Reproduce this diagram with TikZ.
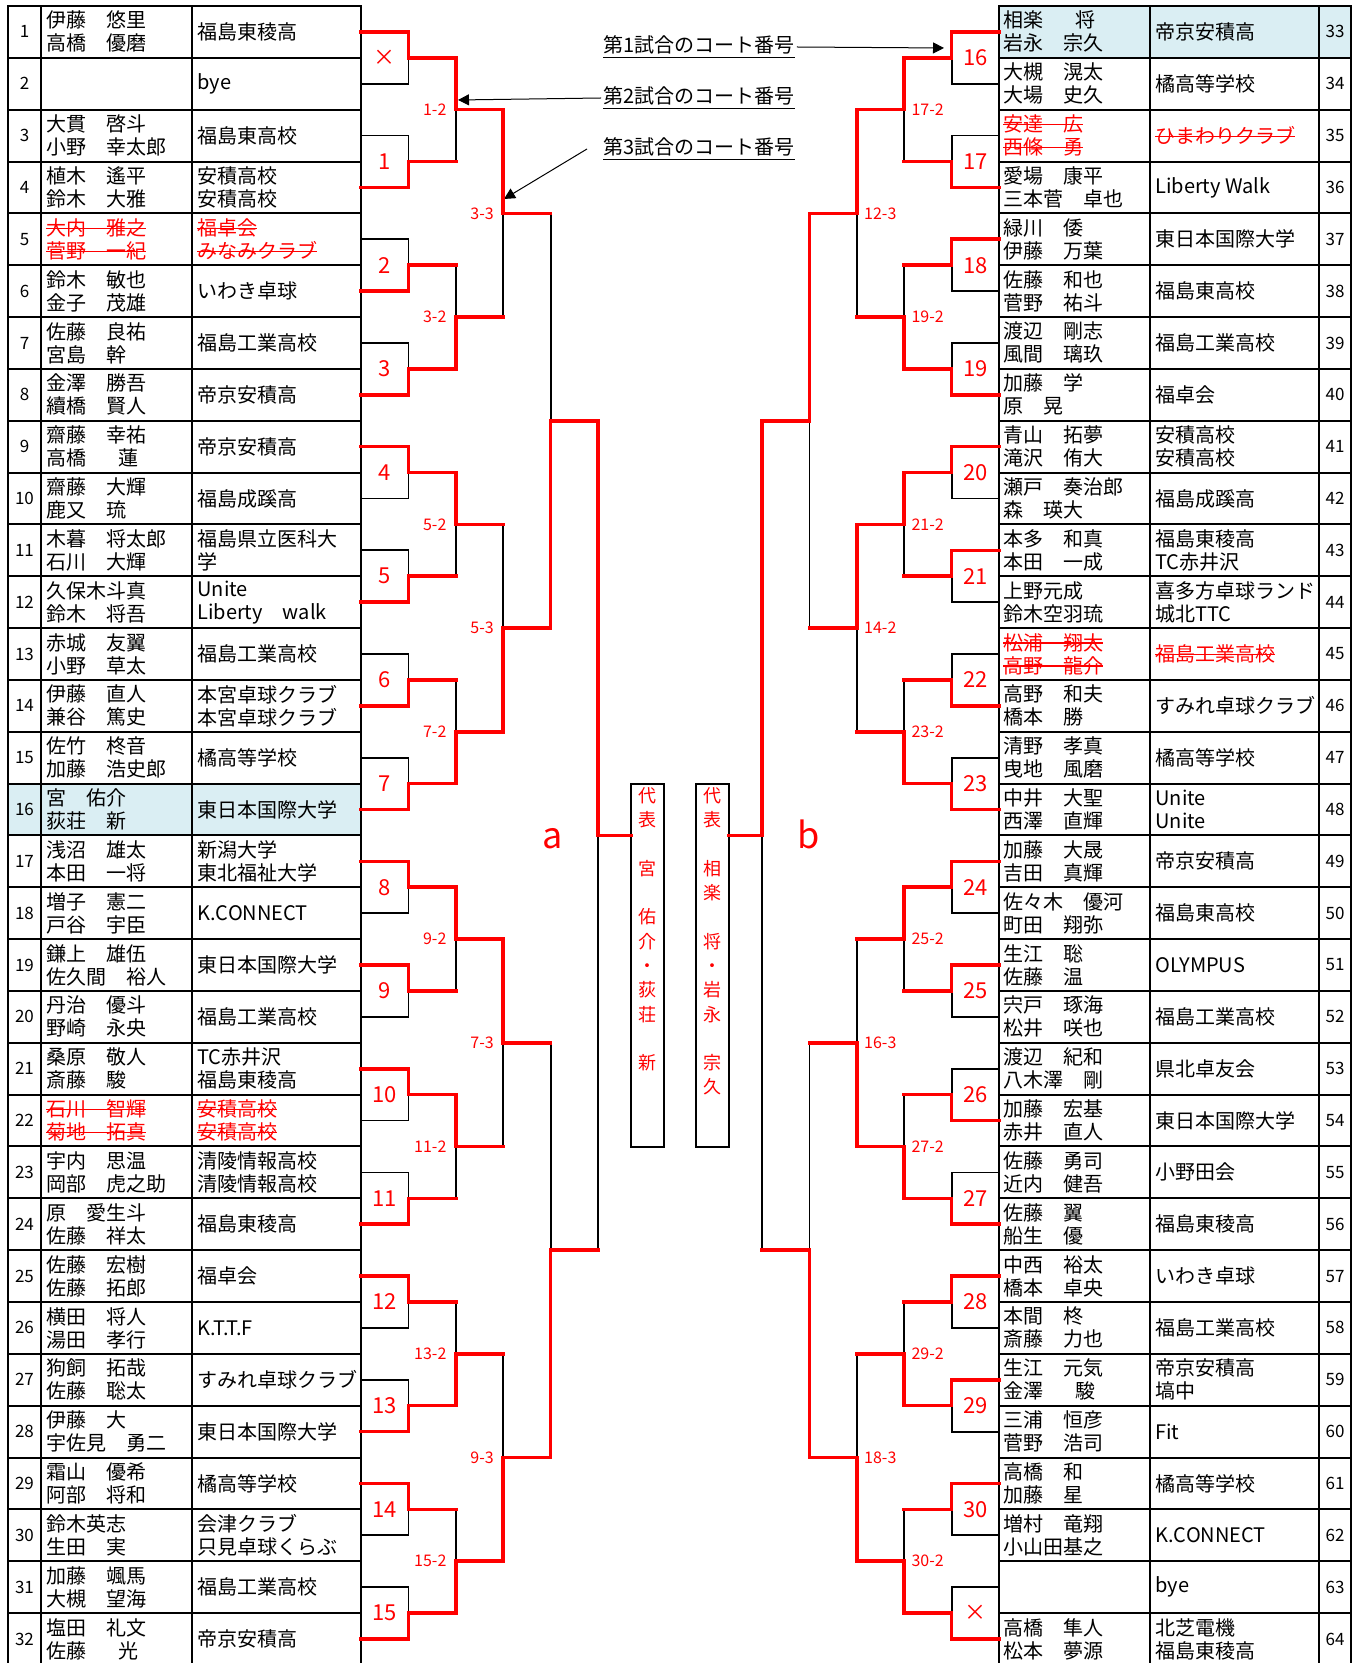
\documentclass[tikz,border=0pt]{standalone}
\usepackage{fontspec}
\setmainfont{Noto Sans CJK JP}
\usetikzlibrary{arrows.meta,positioning}
\pgfdeclarelayer{front}
\pgfsetlayers{main,front}
\definecolor{hilite}{RGB}{218,238,243}
\tikzset{
  >={Triangle[length=5.5pt,width=5.5pt]},
  tline/.style={line width=1pt},
  bline/.style={line width=0.9pt},
  rline/.style={line width=1.8pt,red,line cap=rect},
  arrowline/.style={->,line width=0.5pt},
  namecell/.style={anchor=west,align=left,inner sep=0pt,font=\fontsize{10}{11.5}\selectfont},
  numcell/.style={inner sep=0pt,font=\fontsize{8.5}{10}\selectfont},
  courtnum/.style={inner sep=0pt,red,font=\fontsize{11}{12}\selectfont},
  roundlab/.style={inner sep=0pt,red,font=\fontsize{8}{9}\selectfont},
  note/.style={anchor=west,inner sep=1pt,font=\fontsize{10}{11}\selectfont},
  repbox/.style={draw,line width=1pt,minimum width=16.5pt,minimum height=181.5pt,inner sep=0pt},
  repname/.style={anchor=north,inner sep=0pt,align=center,red,font=\fontsize{9}{12.15}\selectfont},
  sidelab/.style={anchor=base,inner sep=0pt,red,font=\fontsize{18}{18}\selectfont},
}
\newlength\strklen
\newcommand\strk[1]{\settowidth{\strklen}{#1}\textcolor{red}{\rlap{\rule[0.33em]{\strklen}{0.6pt}}#1}}
% one bout of the draw: side (l/r), round, index, winner (0 upper / 1 lower), label
\newcommand\bout[5]{%
  \ifx l#1\def\xo{361}\def\dx{47.4}\def\xe{631}\def\lanc{east}\def\lsh{-4.5pt}%
  \else\def\xo{999}\def\dx{-47.4}\def\xe{729}\def\lanc{west}\def\lsh{3.5pt}\fi
  \pgfmathsetmacro\s{2^(#2-2)}%
  \pgfmathsetmacro\yt{6+(4*\s*#3+\s)*51.84}%
  \pgfmathsetmacro\yb{6+(4*\s*#3+3*\s)*51.84}%
  \pgfmathsetmacro\ym{6+(4*\s*#3+2*\s)*51.84}%
  \pgfmathsetmacro\xa{\xo+(#2-1)*\dx}%
  \pgfmathsetmacro\xb{\xo+#2*\dx}%
  \ifnum#2=5 \let\xc\xe \else\pgfmathsetmacro\xc{\xo+(#2+1)*\dx}\fi
  \ifnum#4=0 \let\yw\yt \else \let\yw\yb \fi
  \ifnum#2=1
    \draw[bline] (\xa,\yt) -- (\xb,\yt) -- (\xb,\yb) -- (\xa,\yb);
    \node[courtnum] (ct#1#3) at ({(\xa+\xb)/2},\ym) {#5};
    \begin{pgfonlayer}{front}
      \draw[rline] (\xa,\yw) -- (\xb,\yw) -- (\xb,\ym) -- (\xc,\ym);
    \end{pgfonlayer}
  \else
    \draw[bline] (\xb,\yt) -- (\xb,\yb);
    \node[roundlab,anchor=\lanc,xshift=\lsh] (rd#1#2#3) at (\xb,\ym) {#5};
    \begin{pgfonlayer}{front}
      \draw[rline] (\xb,\yw) -- (\xb,\ym) -- (\xc,\ym);
    \end{pgfonlayer}
  \fi
}
\begin{document}
\begin{tikzpicture}[x=0.5pt,y=-0.5pt]
\useasboundingbox (0,0) rectangle (1364,1663);

% tables
\fill[hilite] (8,{6+15*51.84}) rectangle (361,{6+16*51.84});
\fill[hilite] (999,6) rectangle (1351,{6+51.84});
\foreach \xl/\xr in {8/361,999/1351} {
  \draw[tline] (\xl,6) rectangle (\xr,1665);
  \foreach \i in {1,...,31} \draw[tline] (\xl,{6+\i*51.84}) -- (\xr,{6+\i*51.84});
}
\foreach \xx in {41,192,1150,1319} \draw[tline] (\xx,6) -- (\xx,1665);

\foreach \i/\nm/\tm in {
  1/{伊藤　悠里\\高橋　優磨}/{福島東稜高},
  2/{}/{bye},
  3/{大貫　啓斗\\小野　幸太郎}/{福島東高校},
  4/{植木　遙平\\鈴木　大雅}/{安積高校\\安積高校},
  5/{\strk{大内　雅之}\\\strk{菅野　一紀}}/{\strk{福卓会}\\\strk{みなみクラブ}},
  6/{鈴木　敏也\\金子　茂雄}/{いわき卓球},
  7/{佐藤　良祐\\宮島　幹}/{福島工業高校},
  8/{金澤　勝吾\\續橋　賢人}/{帝京安積高},
  9/{齋藤　幸祐\\高橋\hspace{1.6em}蓮}/{帝京安積高},
  10/{齋藤　大輝\\鹿又　琉}/{福島成蹊高},
  11/{木暮　将太郎\\石川　大輝}/{福島県立医科大\\学},
  12/{久保木斗真\\鈴木　将吾}/{Unite\\Liberty　walk},
  13/{赤城　友翼\\小野　草太}/{福島工業高校},
  14/{伊藤　直人\\兼谷　篤史}/{本宮卓球クラブ\\本宮卓球クラブ},
  15/{佐竹　柊音\\加藤　浩史郎}/{橘高等学校},
  16/{宮　佑介\\荻荘　新}/{東日本国際大学},
  17/{浅沼　雄太\\本田　一将}/{新潟大学\\東北福祉大学},
  18/{増子　憲二\\戸谷　宇臣}/{K.CONNECT},
  19/{鎌上　雄伍\\佐久間　裕人}/{東日本国際大学},
  20/{丹治　優斗\\野崎　永央}/{福島工業高校},
  21/{桑原　敬人\\斎藤　駿}/{TC赤井沢\\福島東稜高},
  22/{\strk{石川　智輝}\\\strk{菊地　拓真}}/{\strk{安積高校}\\\strk{安積高校}},
  23/{宇内　思温\\岡部　虎之助}/{清陵情報高校\\清陵情報高校},
  24/{原　愛生斗\\佐藤　祥太}/{福島東稜高},
  25/{佐藤　宏樹\\佐藤　拓郎}/{福卓会},
  26/{横田　将人\\湯田　孝行}/{K.T.T.F},
  27/{狗飼　拓哉\\佐藤　聡太}/{すみれ卓球クラブ},
  28/{伊藤　大\\宇佐見　勇二}/{東日本国際大学},
  29/{霜山　優希\\阿部　将和}/{橘高等学校},
  30/{鈴木英志\\生田　実}/{会津クラブ\\只見卓球くらぶ},
  31/{加藤　颯馬\\大槻　望海}/{福島工業高校},
  32/{塩田　礼文\\佐藤\hspace{1.6em}光}/{帝京安積高}} {
  \pgfmathsetmacro\yy{6+(\i-0.5)*51.84}
  \node[numcell] (nl\i) at (24.5,\yy) {\i};
  \node[namecell] (pl\i) at (46,\yy) {\nm};
  \node[namecell] (tl\i) at (197,\yy) {\tm};
}

\foreach \i/\nm/\tm in {
  33/{相楽\hspace{1.6em}将\\岩永　宗久}/{帝京安積高},
  34/{大槻　滉太\\大場　史久}/{橘高等学校},
  35/{\strk{安達　広}\\\strk{西條　勇}}/{\strk{ひまわりクラブ}},
  36/{愛場　康平\\三本菅　卓也}/{Liberty Walk},
  37/{緑川　倭\\伊藤　万葉}/{東日本国際大学},
  38/{佐藤　和也\\菅野　祐斗}/{福島東高校},
  39/{渡辺　剛志\\風間　璃玖}/{福島工業高校},
  40/{加藤　学\\原　晃}/{福卓会},
  41/{青山　拓夢\\滝沢　侑大}/{安積高校\\安積高校},
  42/{瀬戸　奏治郎\\森　瑛大}/{福島成蹊高},
  43/{本多　和真\\本田　一成}/{福島東稜高\\TC赤井沢},
  44/{上野元成\\鈴木空羽琉}/{喜多方卓球ランド\\城北TTC},
  45/{\strk{松浦　翔太}\\\strk{高野　龍介}}/{\strk{福島工業高校}},
  46/{高野　和夫\\橋本　勝}/{すみれ卓球クラブ},
  47/{清野　孝真\\曳地　風磨}/{橘高等学校},
  48/{中井　大聖\\西澤　直輝}/{Unite\\Unite},
  49/{加藤　大晟\\吉田　真輝}/{帝京安積高},
  50/{佐々木　優河\\町田　翔弥}/{福島東高校},
  51/{生江　聡\\佐藤　温}/{OLYMPUS},
  52/{宍戸　琢海\\松井　咲也}/{福島工業高校},
  53/{渡辺　紀和\\八木澤　剛}/{県北卓友会},
  54/{加藤　宏基\\赤井　直人}/{東日本国際大学},
  55/{佐藤　勇司\\近内　健吾}/{小野田会},
  56/{佐藤　翼\\船生　優}/{福島東稜高},
  57/{中西　裕太\\橋本　卓央}/{いわき卓球},
  58/{本間　柊\\斎藤　力也}/{福島工業高校},
  59/{生江　元気\\金澤\hspace{1.6em}駿}/{帝京安積高\\塙中},
  60/{三浦　恒彦\\菅野　浩司}/{Fit},
  61/{高橋　和\\加藤　星}/{橘高等学校},
  62/{増村　竜翔\\小山田基之}/{K.CONNECT},
  63/{}/{bye},
  64/{高橋　隼人\\松本　夢源}/{北芝電機\\福島東稜高}} {
  \pgfmathsetmacro\yy{6+(\i-32.5)*51.84}
  \node[numcell] (nr\i) at (1335,\yy) {\i};
  \node[namecell] (pr\i) at (1003,\yy) {\nm};
  \node[namecell] (tr\i) at (1155,\yy) {\tm};
}

% left bracket
\foreach \m/\w/\lab in {0/0/×,1/1/1,2/1/2,3/1/3,4/0/4,5/1/5,6/1/6,7/1/7,8/0/8,9/0/9,10/0/10,11/1/11,12/0/12,13/1/13,14/0/14,15/1/15}
  {\bout{l}{1}{\m}{\w}{\lab}}
\foreach \m/\w/\lab in {0/0/1-2,1/1/3-2,2/0/5-2,3/1/7-2,4/0/9-2,5/0/11-2,6/1/13-2,7/1/15-2}
  {\bout{l}{2}{\m}{\w}{\lab}}
\foreach \m/\w/\lab in {0/0/3-3,1/1/5-3,2/0/7-3,3/1/9-3}
  {\bout{l}{3}{\m}{\w}{\lab}}
\foreach \m/\w in {0/1,1/1} {\bout{l}{4}{\m}{\w}{}}
\bout{l}{5}{0}{0}{}

% right bracket
\foreach \m/\w/\lab in {0/0/16,1/1/17,2/0/18,3/1/19,4/0/20,5/0/21,6/1/22,7/1/23,8/0/24,9/0/25,10/1/26,11/1/27,12/0/28,13/0/29,14/0/30,15/1/×}
  {\bout{r}{1}{\m}{\w}{\lab}}
\foreach \m/\w/\lab in {0/0/17-2,1/1/19-2,2/0/21-2,3/1/23-2,4/0/25-2,5/1/27-2,6/1/29-2,7/1/30-2}
  {\bout{r}{2}{\m}{\w}{\lab}}
\foreach \m/\w/\lab in {0/0/12-3,1/0/14-2,2/1/16-3,3/1/18-3}
  {\bout{r}{3}{\m}{\w}{\lab}}
\foreach \m/\w in {0/0,1/1} {\bout{r}{4}{\m}{\w}{}}
\bout{r}{5}{0}{0}{}

% representatives
\node[repbox] (repA) at (647.5,965.5) {};
\node[repbox] (repB) at (712.5,965.5) {};
\node[repname] (repAname) at (647.5,787) {代\\表\\　\\宮\\　\\佑\\介\\・\\荻\\荘\\　\\新};
\node[repname] (repBname) at (712.5,787) {代\\表\\　\\相\\楽\\　\\将\\・\\岩\\永\\　\\宗\\久};
\node[sidelab] (blockA) at (553,848) {a};
\node[sidelab] (blockB) at (809,848) {b};

% notes
\node[note] (note1) at (601,47) {\underline{第1試合のコート番号}};
\node[note] (note2) at (601,98) {\underline{第2試合のコート番号}};
\node[note] (note3) at (601,149) {\underline{第3試合のコート番号}};
\coordinate (tip1) at (944,48);
\coordinate (tip2) at (458,100);
\coordinate (tip3) at (504,199);
\draw[arrowline] (note1.east) -- (tip1);
\draw[arrowline] (note2.west) -- (tip2);
\draw[arrowline] ([xshift=-7pt]note3.west) -- (tip3);

\end{tikzpicture}
\end{document}
